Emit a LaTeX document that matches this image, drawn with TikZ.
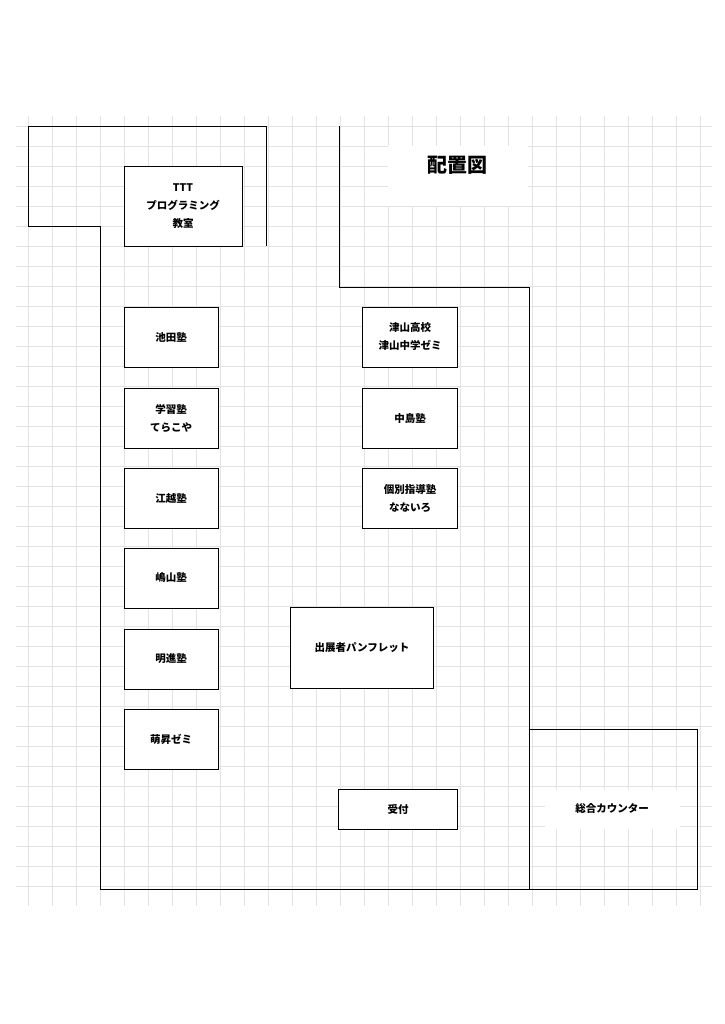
\documentclass[tikz,border=0pt]{standalone}
\usepackage{fontspec}
\setmainfont{Noto Sans CJK JP}
\usepackage{tikz}
\usetikzlibrary{positioning}

\begin{document}
\begin{tikzpicture}[x=1pt,y=-1pt]
                \tikzstyle{block} = [draw, rectangle, fill=white, thick, align=center, font=\bfseries\fontsize{10.5}{18}\selectfont, inner sep=0pt]
                \tikzstyle{gridline} = [draw=black!11, line width=0.8pt]
                \tikzstyle{wall} = [draw, thick]
                \useasboundingbox (0,0) rectangle (724,1024);

                % grid
                \foreach \x in {28,52,...,700} \draw [gridline] (\x,116) -- (\x,906);
                \foreach \y in {126,146,...,886} \draw [gridline] (16,\y) -- (712,\y);

                % white areas behind titles
                \fill [white] (388,146) rectangle (528,206);
                \fill [white] (545,790) rectangle (680,829);

                % walls
                \draw [wall] (266,246) -- (266,126) -- (28,126) -- (28,226) -- (100,226) -- (100,889) -- (697,889) -- (697,729) -- (529,729) -- (529,287) -- (339,287) -- (339,126);
                \draw [wall] (529,729) -- (529,889);

                \node [block, minimum width=118pt, minimum height=80pt] (ttt) at (183,206) {TTT\\プログラミング\\教室};
                \node [block, minimum width=94pt, minimum height=60pt] (ikeda) at (171,337) {池田塾};
                \node [block, minimum width=94pt, minimum height=60pt] (terakoya) at (171,418) {学習塾\\てらこや};
                \node [block, minimum width=94pt, minimum height=60pt] (egoshi) at (171,498) {江越塾};
                \node [block, minimum width=94pt, minimum height=60pt] (shimayama) at (171,578) {嶋山塾};
                \node [block, minimum width=94pt, minimum height=60pt] (meishin) at (171,659) {明進塾};
                \node [block, minimum width=94pt, minimum height=60pt] (hosho) at (171,739) {萌昇ゼミ};
                \node [block, minimum width=95pt, minimum height=60pt] (tsuyama) at (410,337) {津山高校\\津山中学ゼミ};
                \node [block, minimum width=95pt, minimum height=60pt] (nakashima) at (410,418) {中島塾};
                \node [block, minimum width=95pt, minimum height=60pt] (nanairo) at (410,498) {個別指導塾\\なないろ};
                \node [block, minimum width=143pt, minimum height=81pt] (pamphlet) at (362,648) {出展者パンフレット};
                \node [block, minimum width=119pt, minimum height=40pt] (uketsuke) at (398,809) {受付};
                \node [font=\bfseries\fontsize{10.5}{12}\selectfont] (counter) at (612,809) {総合カウンター};
                \node [font=\bfseries\fontsize{20}{24}\selectfont] (title) at (457,165) {配置図};
\end{tikzpicture}
\end{document}
